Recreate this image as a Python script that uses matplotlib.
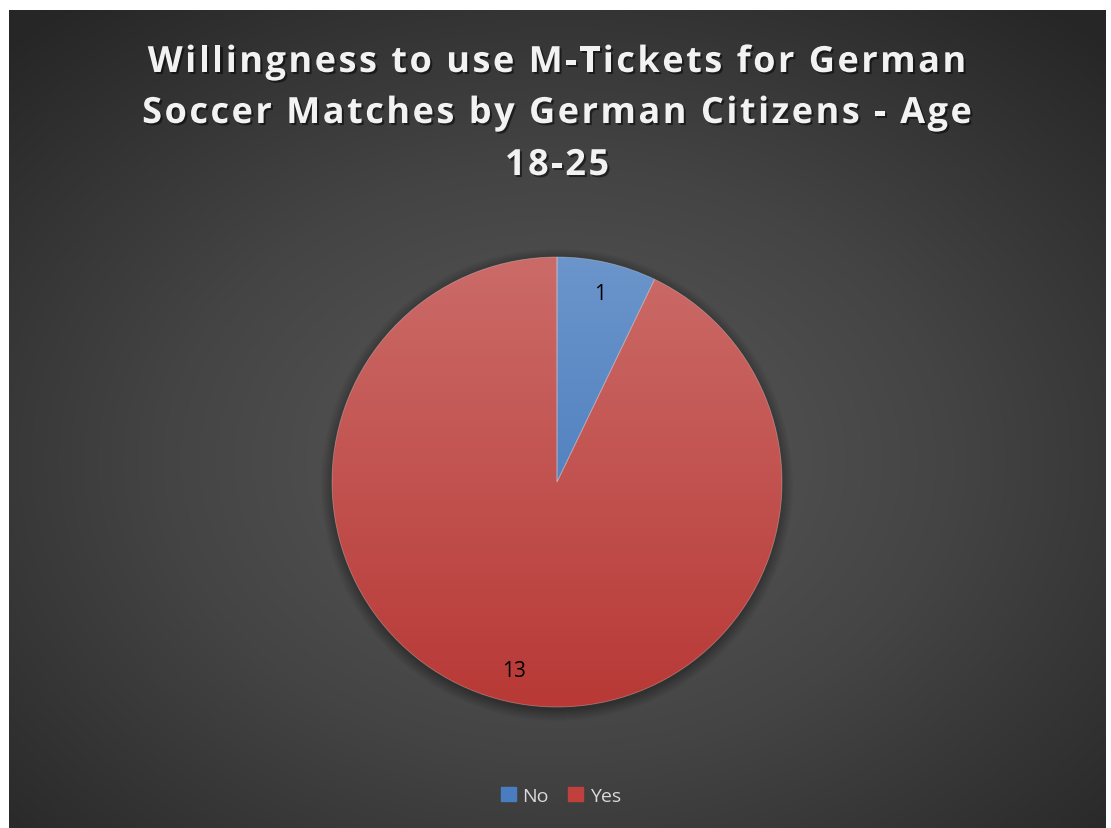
import matplotlib as mpl
mpl.use('Agg')

import matplotlib.pyplot as plt
import matplotlib.patheffects as pe
from matplotlib.patches import Circle, Rectangle
from matplotlib.colors import LinearSegmentedColormap
from matplotlib.font_manager import FontProperties, findfont, get_font
import numpy as np

# data
categories = ['No', 'Yes']
counts = [1, 13]
title_lines = ['Willingness to use M-Tickets for German',
               'Soccer Matches by German Citizens - Age',
               '18-25']

# top / bottom shades of each slice gradient
slice_shades = [('#6b95cb', '#3a70b6'), ('#cb6b68', '#b83936')]
legend_colors = ['#4a7cc0', '#c0403d']

W, H = 1111, 829
fig = plt.figure(figsize=(W / 100, H / 100), dpi=100)
fig.patch.set_facecolor('white')

# dark background with a soft radial glow
bg = fig.add_axes([9 / W, 0, (1106 - 9) / W, 818 / H])
bg.set_axis_off()
ny, nx = 400, 540
yy, xx = np.mgrid[0:ny, 0:nx]
cx, cy = nx * 0.50, ny * 0.55
d = np.sqrt(((xx - cx) / nx) ** 2 + ((yy - cy) / ny) ** 2) / 0.72
d = np.clip(d, 0, 1)
bg_cmap = LinearSegmentedColormap.from_list('bg', ['#5a5a5a', '#444444', '#262626'])
bg.imshow(d, cmap=bg_cmap, vmin=0, vmax=1, aspect='auto', extent=(0, 1, 0, 1))
bg.set_xlim(0, 1)
bg.set_ylim(0, 1)

# pie axes: centre at (557, 483) px, radius 225 px
r_px = 225
ax = fig.add_axes([(557 - r_px) / W, (H - 483 - r_px) / H, 2 * r_px / W, 2 * r_px / H])
ax.set_axis_off()

# soft drop shadow under the pie
for k in range(12):
    ax.add_patch(Circle((0.0, -0.012), 1.0 + k * 0.0045, color='black',
                        alpha=0.025, zorder=0, lw=0, clip_on=False))

total = sum(counts)
wedges, texts, autotexts = ax.pie(
    counts, startangle=90, counterclock=False, radius=1,
    colors=[s[1] for s in slice_shades],
    autopct=lambda p: '{:d}'.format(int(round(p * total / 100))),
    pctdistance=0.86,
    wedgeprops=dict(linewidth=0, zorder=1),
    textprops=dict(color='black', fontsize=15, family='Open Sans'))

grad = np.linspace(0, 1, 256).reshape(-1, 1)
for w, (top, bot) in zip(wedges, slice_shades):
    cmap = LinearSegmentedColormap.from_list('g', [top, bot])
    im = ax.imshow(grad, cmap=cmap, extent=(-1, 1, -1, 1), aspect='auto',
                   origin='upper', zorder=2)
    im.set_clip_path(w)

# thin light borders between slices
for w in wedges:
    w.set_zorder(3)
    w.set_facecolor('none')
    w.set_edgecolor((1, 1, 1, 0.3))
    w.set_linewidth(0.6)

for t in autotexts:
    t.set_zorder(5)

ax.set_xlim(-1, 1)
ax.set_ylim(-1, 1)

# title, drawn glyph by glyph to get the wide letter spacing
title_fp = FontProperties(family='Open Sans', weight='bold', size=26)
ft = get_font(findfont(title_fp))
ft.set_size(26, 100)
tracking = 2.5          # extra px between letters
baselines = [73, 124, 176]
shadow = [pe.withSimplePatchShadow(offset=(1.5, -1.5), shadow_rgbFace='black', alpha=0.5)]
for line, base in zip(title_lines, baselines):
    adv = [ft.load_char(ord(c)).linearHoriAdvance / 65536 for c in line]
    width = sum(adv) + tracking * (len(line) - 1)
    x = 557 - width / 2
    for c, a in zip(line, adv):
        if c != ' ':
            fig.text(x / W, 1 - base / H, c, ha='left', va='baseline',
                     color='#f2f2f2', fontproperties=title_fp, path_effects=shadow)
        x += a + tracking

# legend
handles = [Rectangle((0, 0), 1, 1, color=c) for c in legend_colors]
leg = fig.legend(handles, categories, loc='center', bbox_to_anchor=(561 / W, 1 - 797 / H),
                 ncol=2, frameon=False, handlelength=0.75, handleheight=0.75,
                 handletextpad=0.35, columnspacing=1.0,
                 prop=dict(family='Open Sans', size=14))
for t in leg.get_texts():
    t.set_color('#d9d9d9')

plt.savefig('out.png', dpi=100, facecolor=fig.get_facecolor())
